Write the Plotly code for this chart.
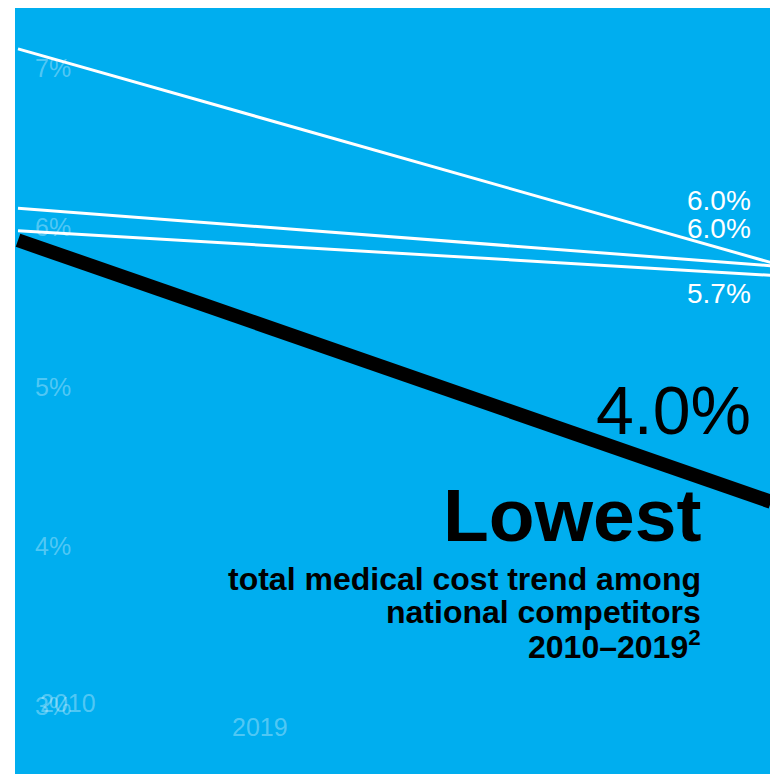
import plotly.graph_objects as go

# ---- data ----
years = [2010, 2019]
competitor_a = [7.12, 5.78]
competitor_b = [6.12, 5.76]
competitor_c = [5.98, 5.70]
company = [5.92, 4.28]

y_tick_vals = [3, 4, 5, 6, 7]
y_tick_text = ["3%", "4%", "5%", "6%", "7%"]

label_a = "6.0%"
label_b = "6.0%"
label_c = "5.7%"
label_company = "4.0%"
headline = "Lowest"
sub_lines = ["total medical cost trend among", "national competitors", "2010–2019<sup>2</sup>"]
year_labels = ["2010", "2019"]

BLUE = "#00AEEF"
FAINT = "rgba(255,255,255,0.33)"
FONT = "Liberation Sans, Arial, sans-serif"

fig = go.Figure()
for ys in (competitor_a, competitor_b, competitor_c):
    fig.add_trace(go.Scatter(x=years, y=ys, mode="lines",
                             line=dict(color="white", width=3),
                             hoverinfo="skip", showlegend=False, cliponaxis=False))
fig.add_trace(go.Scatter(x=years, y=company, mode="lines",
                         line=dict(color="black", width=14),
                         hoverinfo="skip", showlegend=False, cliponaxis=False))

def px_x(px):
    return (px - 15) / 758

def px_y(py):
    return (774 - py) / 766

ann = []
for txt, py in ((label_a, 200), (label_b, 228), (label_c, 293)):
    ann.append(dict(text=txt, x=px_x(752), y=px_y(py), xanchor="right", yanchor="middle",
                    font=dict(family=FONT, size=28, color="white")))
ann.append(dict(text=label_company, x=px_x(752), y=px_y(410), xanchor="right", yanchor="middle",
                font=dict(family=FONT, size=68, color="black")))
ann.append(dict(text="<b>" + headline + "</b>", x=px_x(702), y=px_y(515), xanchor="right", yanchor="middle",
                font=dict(family=FONT, size=75, color="black")))
for txt, py in zip(sub_lines, (579, 612, 645)):
    ann.append(dict(text="<b>" + txt + "</b>", x=px_x(702), y=px_y(py), xanchor="right", yanchor="middle",
                    font=dict(family=FONT, size=32, color="black")))
ann.append(dict(text=year_labels[0], x=px_x(38), y=px_y(703), xanchor="left", yanchor="middle",
                font=dict(family=FONT, size=25, color=FAINT)))
ann.append(dict(text=year_labels[1], x=px_x(260), y=px_y(727), xanchor="center", yanchor="middle",
                font=dict(family=FONT, size=25, color=FAINT)))
for a in ann:
    a.update(xref="paper", yref="paper", showarrow=False)

fig.update_layout(
    width=766, height=766,
    margin=dict(l=7, r=0, t=0, b=0),
    paper_bgcolor="white",
    plot_bgcolor=BLUE,
    annotations=ann,
    xaxis=dict(range=[2009.964, 2019.036], showgrid=False, zeroline=False,
               showticklabels=False, ticks="", showline=False),
    yaxis=dict(range=[2.574, 7.376], showgrid=False, zeroline=False, showline=False,
               tickvals=y_tick_vals, ticktext=y_tick_text, ticks="",
               ticklabelposition="inside", ticklabelstandoff=17,
               tickfont=dict(family=FONT, size=25, color=FAINT), layer="below traces"),
)

fig.write_html("out.html")
